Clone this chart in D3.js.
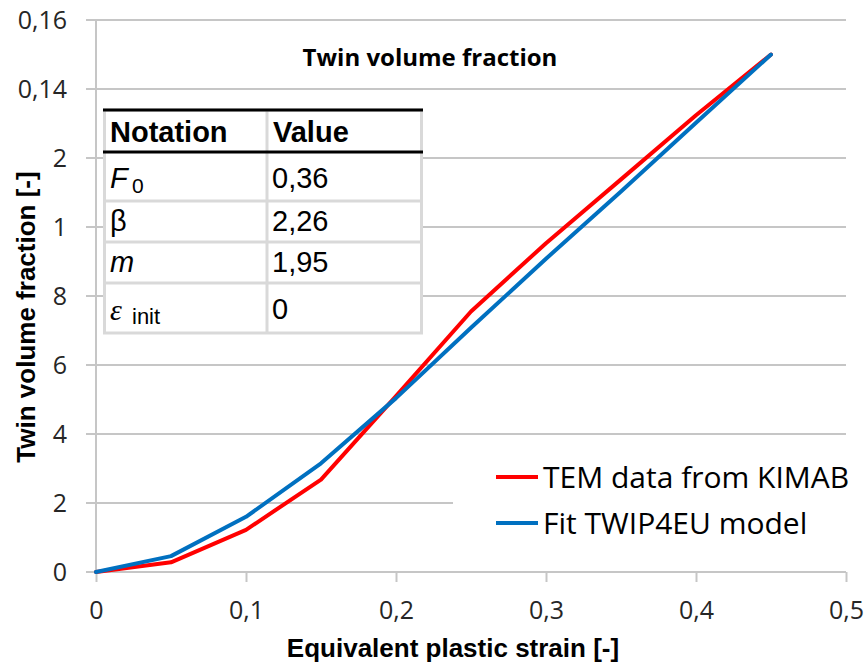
<!DOCTYPE html>
<html lang="en">
<head>
<meta charset="utf-8" />
<title>Twin volume fraction</title>
<script src="https://d3js.org/d3.v7.min.js"></script>
<style>
  body { margin: 0; background: #fff; }
  .tick text { font-family: "Open Sans", sans-serif; font-size: 25px; fill: #262626; }
  .axis-title { font-family: "Liberation Sans", Arial, sans-serif; font-weight: bold; font-size: 26px; fill: #000; }
  .tbl { font-family: "Liberation Sans", Arial, sans-serif; font-size: 29px; fill: #000; }
  .legend text { font-family: "Open Sans", sans-serif; font-size: 30px; fill: #000; }
</style>
</head>
<body>
<svg width="866" height="665"></svg>
<script>
// data
var strain = [0, 0.05, 0.1, 0.15, 0.2, 0.25, 0.3, 0.35, 0.4, 0.45];
var temData = [0, 0.0028, 0.0122, 0.0268, 0.051, 0.0755, 0.0953, 0.1138, 0.1324, 0.15];
var fitModel = [0, 0.0046, 0.016, 0.0315, 0.0504, 0.0708, 0.0908, 0.1103, 0.1302, 0.1500];
var seriesNames = ["TEM data from KIMAB", "Fit TWIP4EU model"];
var seriesColors = ["#ff0000", "#0070c0"];
var xTicks = [0, 0.1, 0.2, 0.3, 0.4, 0.5];
var yTicks = [0, 0.02, 0.04, 0.06, 0.08, 0.1, 0.12, 0.14, 0.16];
var tableHead = ["Notation", "Value"];
var tableValues = ["0,36", "2,26", "1,95", "0"];

var svg = d3.select("svg"),
    width = +svg.attr("width"),
    height = +svg.attr("height");

svg.append("rect").attr("width", width).attr("height", height).attr("fill", "#fff");

var x = d3.scaleLinear().domain([0, 0.5]).range([96, 846]);
var y = d3.scaleLinear().domain([0, 0.16]).range([572, 20]);

function fmt(d) { return String(+d.toFixed(2)).replace(".", ","); }

// horizontal gridlines (also act as the left tick marks)
svg.append("g").selectAll("line").data(yTicks).enter().append("line")
  .attr("x1", 86).attr("x2", x(0.5))
  .attr("y1", d => y(d)).attr("y2", d => y(d))
  .attr("stroke", "#c6c6c6").attr("stroke-width", 2);

// vertical axis line
svg.append("line")
  .attr("x1", x(0)).attr("x2", x(0)).attr("y1", y(0.16)).attr("y2", y(0))
  .attr("stroke", "#c6c6c6").attr("stroke-width", 2);

// y axis labels
var yAxis = svg.append("g").attr("transform", "translate(" + x(0) + ",0)")
  .call(d3.axisLeft(y).tickValues(yTicks).tickFormat(fmt).tickSize(0).tickPadding(29));
yAxis.select(".domain").remove();

// x axis
var xAxis = svg.append("g").attr("transform", "translate(0," + y(0) + ")")
  .call(d3.axisBottom(x).tickValues(xTicks).tickFormat(fmt).tickSize(10).tickPadding(19));
xAxis.select(".domain").remove();
xAxis.selectAll(".tick line").attr("stroke", "#c6c6c6").attr("stroke-width", 2);

// white patch hiding part of the y labels, as in the original
svg.append("rect").attr("x", 0).attr("y", 140).attr("width", 52).attr("height", 460).attr("fill", "#fff");

svg.append("text").attr("class", "axis-title")
  .attr("transform", "translate(35,317) rotate(-90)")
  .attr("text-anchor", "middle")
  .text("Twin volume fraction [-]");

svg.append("text").attr("class", "axis-title")
  .attr("x", 453).attr("y", 657).attr("text-anchor", "middle")
  .text("Equivalent plastic strain [-]");

// chart title
svg.append("text")
  .attr("x", 430).attr("y", 66).attr("text-anchor", "middle")
  .style("font-family", "'Open Sans', sans-serif").style("font-weight", "bold")
  .style("font-size", "24px").attr("fill", "#000")
  .text("Twin volume fraction");

// lines
var line = d3.line().x((d, i) => x(strain[i])).y(d => y(d));
[temData, fitModel].forEach(function(s, k) {
  svg.append("path").datum(s)
    .attr("d", line)
    .attr("fill", "none")
    .attr("stroke", seriesColors[k])
    .attr("stroke-width", 4)
    .attr("stroke-linejoin", "round")
    .attr("stroke-linecap", "round");
});

// parameter table
var tbl = svg.append("g");
var rowEdges = [110, 152, 201, 242, 283, 333];
var colL = 104.5, colM = 267, colR = 421.5;
tbl.append("rect").attr("x", colL).attr("y", rowEdges[0]).attr("width", colR - colL)
  .attr("height", rowEdges[5] - rowEdges[0]).attr("fill", "#fff")
  .attr("stroke", "#d9d9d9").attr("stroke-width", 3);
tbl.selectAll(".rowline").data(rowEdges.slice(2, 5)).enter().append("line")
  .attr("x1", colL).attr("x2", colR).attr("y1", d => d).attr("y2", d => d)
  .attr("stroke", "#d9d9d9").attr("stroke-width", 3);
tbl.append("line").attr("x1", colM).attr("x2", colM).attr("y1", rowEdges[0]).attr("y2", rowEdges[5])
  .attr("stroke", "#d9d9d9").attr("stroke-width", 3);
tbl.selectAll(".hline").data([rowEdges[0], rowEdges[1]]).enter().append("line")
  .attr("x1", 103).attr("x2", 423).attr("y1", d => d).attr("y2", d => d)
  .attr("stroke", "#000").attr("stroke-width", 3);

tbl.selectAll(".head").data(tableHead).enter().append("text")
  .attr("class", "tbl").attr("font-weight", "bold")
  .attr("x", (d, i) => i ? 273 : 110).attr("y", 142).text(d => d);

var baselines = [188, 231, 272, 319];
tbl.selectAll(".val").data(tableValues).enter().append("text")
  .attr("class", "tbl").attr("x", 272).attr("y", (d, i) => baselines[i]).text(d => d);

var f0 = tbl.append("text").attr("class", "tbl").attr("x", 110).attr("y", 188);
f0.append("tspan").attr("font-style", "italic").text("F");
f0.append("tspan").attr("x", 132).attr("y", 193).attr("font-size", "21px").text("0");
tbl.append("text").attr("class", "tbl").attr("x", 110).attr("y", 231).text("β");
tbl.append("text").attr("class", "tbl").attr("x", 110).attr("y", 272).attr("font-style", "italic").text("m");
var ei = tbl.append("text").attr("class", "tbl").attr("x", 110).attr("y", 320);
ei.append("tspan").attr("font-style", "italic").attr("font-family", "'Liberation Serif', serif").attr("font-size", "30px").text("ε");
ei.append("tspan").attr("x", 132).attr("y", 324).attr("font-size", "22px").text("init");

// legend
var lg = svg.append("g").attr("class", "legend");
lg.append("rect").attr("x", 453).attr("y", 445).attr("width", 400).attr("height", 110).attr("fill", "#fff");
var ly = [477, 523];
seriesNames.forEach(function(n, k) {
  lg.append("line").attr("x1", 496).attr("x2", 538).attr("y1", ly[k]).attr("y2", ly[k])
    .attr("stroke", seriesColors[k]).attr("stroke-width", 4);
  lg.append("text").attr("x", 543).attr("y", ly[k] + 11).text(n);
});
</script>
</body>
</html>
